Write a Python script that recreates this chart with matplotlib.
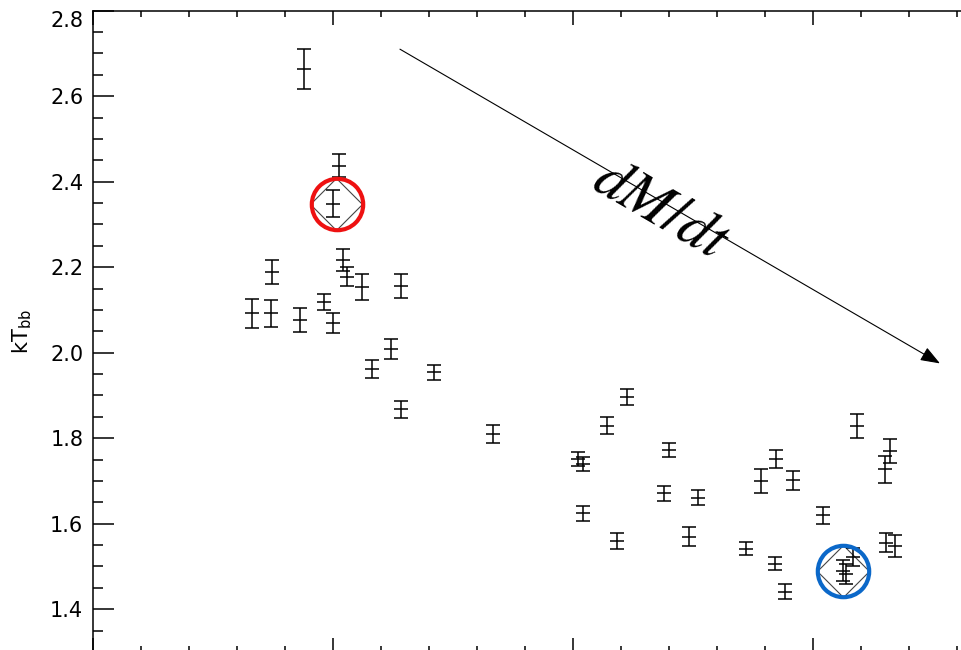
import matplotlib
matplotlib.use("Agg")
import matplotlib.pyplot as plt
import numpy as np

# data (x axis has no visible labels, arbitrary units)
x_vals = [0.879, 1.026, 1.001, 0.745, 0.661, 0.742, 0.863, 0.963, 1.001, 1.040,
          1.060, 1.120, 1.282, 1.242, 1.161, 1.421, 1.282, 1.665, 2.022, 2.043,
          2.140, 2.224, 2.040, 2.183, 2.401, 2.380, 2.522, 2.483, 2.720, 3.182,
          2.845, 2.782, 2.918, 3.321, 3.300, 3.040, 2.842, 2.883, 3.303, 3.342,
          3.165, 3.126, 3.138]
kT_bb = [2.664, 2.437, 2.349, 2.188, 2.092, 2.092, 2.076, 2.119, 2.069, 2.217,
         2.178, 2.153, 2.156, 2.009, 1.962, 1.954, 1.868, 1.811, 1.751, 1.740,
         1.829, 1.896, 1.624, 1.560, 1.772, 1.671, 1.661, 1.570, 1.542, 1.829,
         1.751, 1.701, 1.702, 1.771, 1.727, 1.620, 1.507, 1.441, 1.556, 1.548,
         1.523, 1.490, 1.482]
kT_err = [0.047, 0.027, 0.031, 0.028, 0.034, 0.031, 0.028, 0.019, 0.023, 0.025,
          0.023, 0.030, 0.028, 0.024, 0.022, 0.018, 0.020, 0.021, 0.017, 0.016,
          0.020, 0.019, 0.017, 0.019, 0.016, 0.018, 0.018, 0.022, 0.016, 0.028,
          0.021, 0.028, 0.022, 0.028, 0.032, 0.020, 0.016, 0.018, 0.022, 0.026,
          0.021, 0.025, 0.024]

# highlighted points (diamond + circle)
hl_x = [1.012, 3.124]
hl_y = [2.349, 1.489]
hl_colors = ["#ee1111", "#0b68c9"]
circle_x = [1.017, 3.124]
circle_y = [2.348, 1.489]

# arrow
arrow_start = (1.279, 2.710)
arrow_end = (3.529, 1.975)

fig = plt.figure(figsize=(9.62, 6.5), dpi=100)
# axes runs past the right and bottom edges like the cropped original
ax = fig.add_axes([93/962, 1 - 652/650, 960/962, (652 - 10.7)/650])

ax.errorbar(x_vals, kT_bb, yerr=kT_err, fmt="_", ms=10, mew=1.1, color="k",
            ecolor="k", elinewidth=1.1, capsize=5, capthick=1.1, zorder=3)

# diamonds
ax.plot(hl_x, hl_y, ls="none", marker="D", ms=26.5, mfc="none", mec="#444444", mew=0.8, zorder=2)
# circles
for cx, cy, c in zip(circle_x, circle_y, hl_colors):
    ax.plot([cx], [cy], ls="none", marker="o", ms=37, mfc="none", mec=c, mew=3, zorder=5)

ax.annotate("", xy=arrow_end, xytext=arrow_start,
            arrowprops=dict(arrowstyle="-|>,head_length=1.2,head_width=0.45",
                            mutation_scale=10, color="k", lw=0.8, shrinkA=0, shrinkB=0))
ax.text(2.367, 2.335, r"$dM/dt$", fontsize=43, math_fontfamily="stix",
        rotation=-30.2, rotation_mode="anchor", ha="center", va="center")

ax.set_xlim(0, 4)
ax.set_ylim(1.3, 2.8)
ax.set_xticks(np.arange(0, 4.01, 1))
ax.set_xticks(np.arange(0, 4.01, 0.2), minor=True)
ax.set_yticks(np.arange(1.4, 2.81, 0.2))
ax.set_yticks(np.arange(1.3, 2.81, 0.05), minor=True)
ax.set_yticklabels([f"{v:.1f}" for v in np.arange(1.4, 2.81, 0.2)])
ax.tick_params(which="both", direction="in", top=True, right=True, width=1.1,
               labelbottom=False, labelsize=15, pad=7)
ax.tick_params(axis="x", which="major", length=10)
ax.tick_params(axis="x", which="minor", length=4.3)
ax.tick_params(axis="y", which="major", length=15)
ax.tick_params(axis="y", which="minor", length=7.2)
ax.get_yticklabels()[-1].set_va("top")
for s in ax.spines.values():
    s.set_linewidth(1.1)

fig.text(22/962, 1 - 332/650, r"kT$_{\mathrm{bb}}$", rotation=90, fontsize=15,
         ha="center", va="center")

fig.savefig("out.png", dpi=100)
